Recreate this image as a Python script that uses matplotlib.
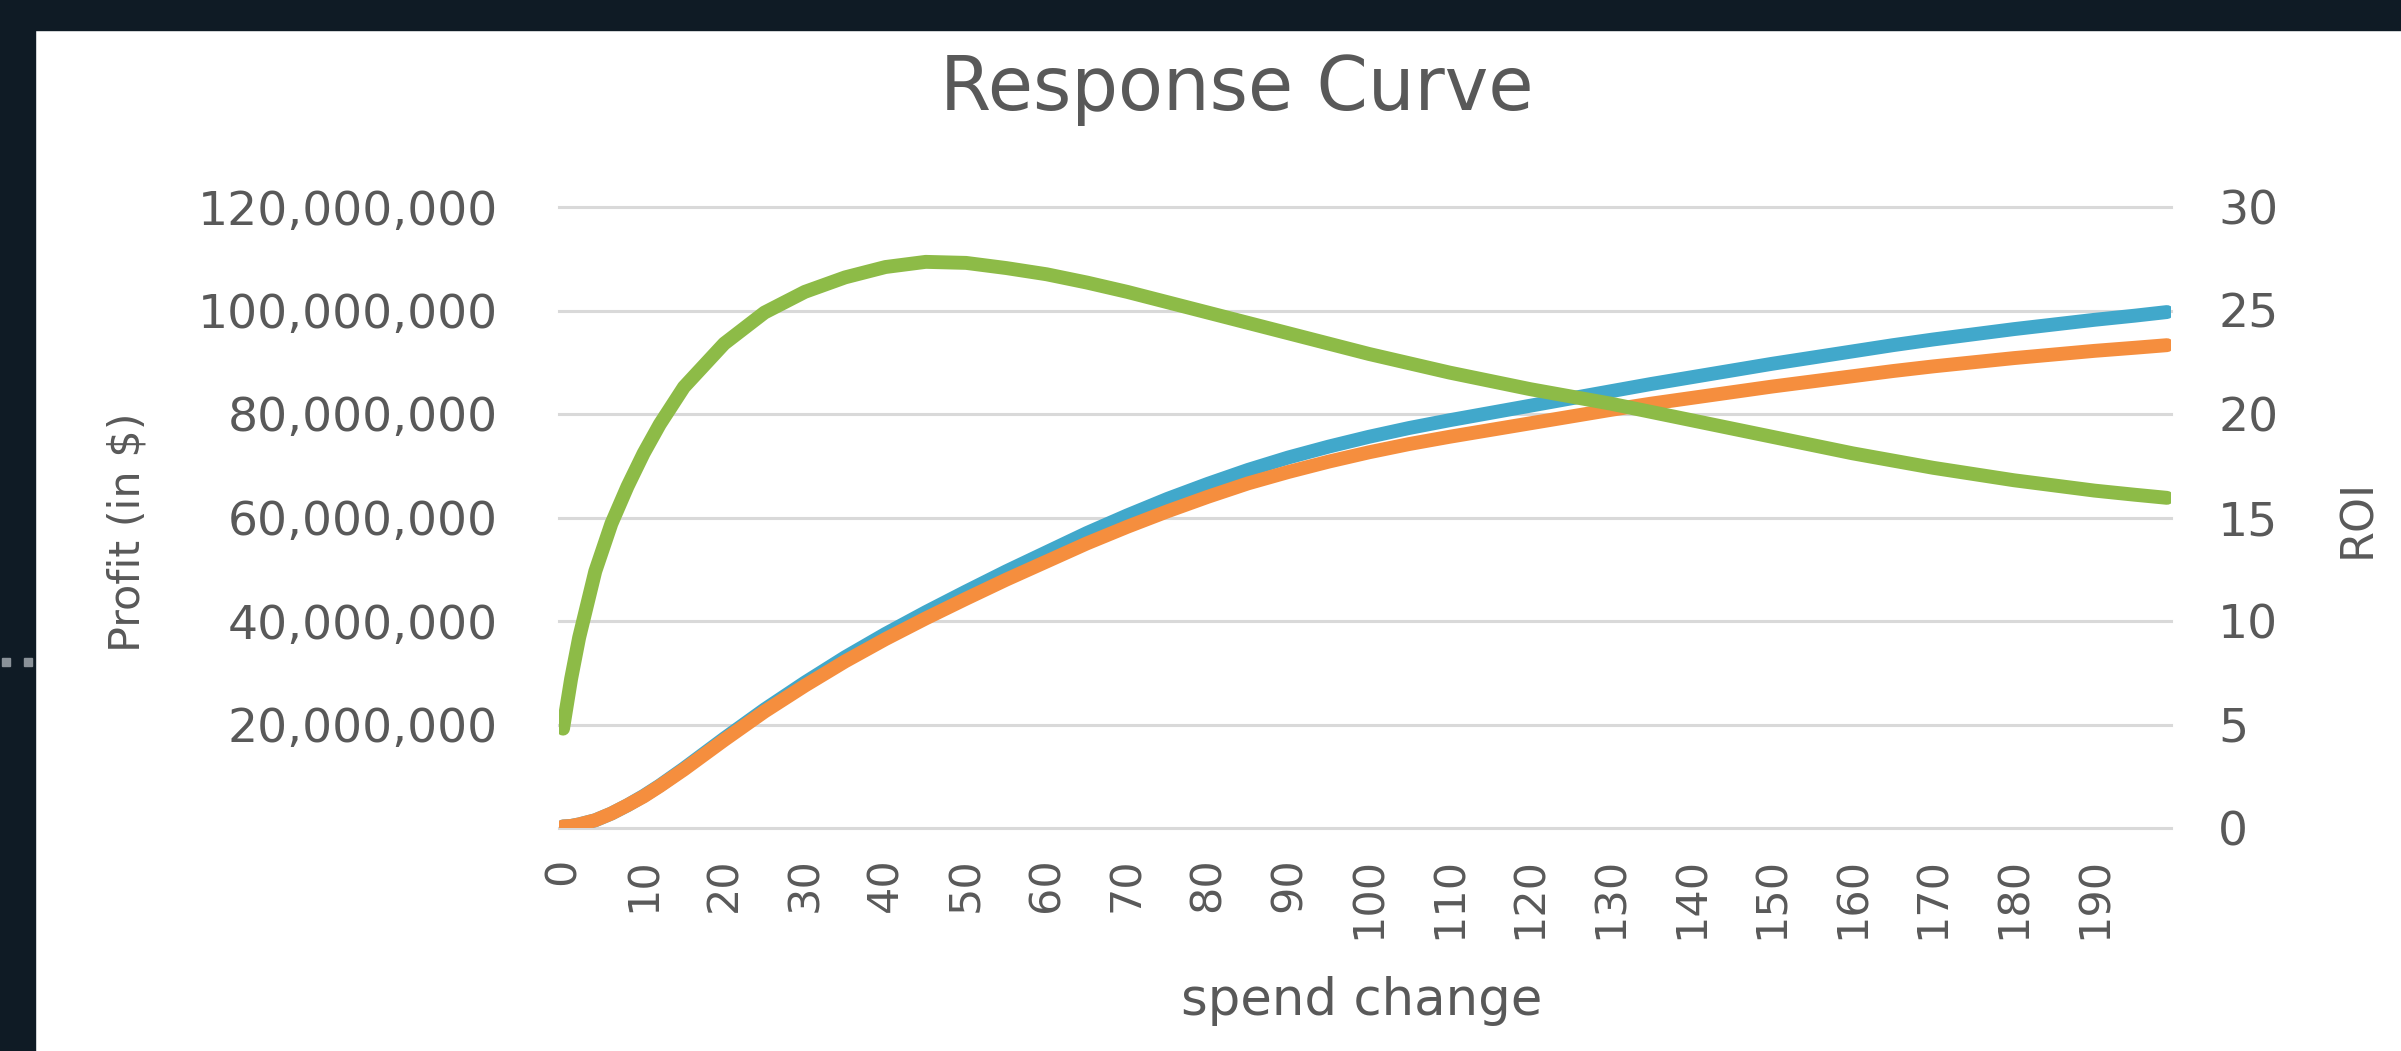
# Response curve: profit (two scenarios) and ROI against spend change
import numpy as np
import matplotlib.pyplot as plt
from matplotlib.patches import Rectangle
from matplotlib.ticker import StrMethodFormatter, MultipleLocator


spend_change = [0, 1, 2, 4, 6, 8, 10, 12, 15, 20, 25, 30, 35, 40, 45, 50, 55, 60,
                65, 70, 75, 80, 85, 90, 95, 100, 105, 110, 115, 120, 125, 130,
                135, 140, 145, 150, 155, 160, 165, 170, 175, 180, 185, 190, 195, 199]

# profit in millions of $
profit_blue = [0.3, 0.4, 0.7, 1.5, 2.8, 4.4, 6.2, 8.2, 11.5, 17.3, 22.9, 28.1, 33.0,
               37.5, 41.7, 45.7, 49.6, 53.3, 57.0, 60.4, 63.6, 66.5, 69.2, 71.6, 73.7,
               75.6, 77.3, 78.8, 80.2, 81.6, 83.0, 84.4, 85.8, 87.1, 88.4, 89.7, 90.9,
               92.1, 93.3, 94.4, 95.4, 96.4, 97.3, 98.2, 99.0, 99.7]
profit_orange = [0.3, 0.4, 0.7, 1.5, 2.8, 4.4, 6.1, 8.1, 11.3, 17.0, 22.5, 27.5, 32.2,
                 36.5, 40.5, 44.3, 48.0, 51.5, 55.0, 58.2, 61.2, 64.0, 66.6, 68.8, 70.8,
                 72.6, 74.2, 75.6, 76.9, 78.2, 79.5, 80.8, 82.0, 83.1, 84.2, 85.3, 86.3,
                 87.3, 88.3, 89.2, 90.0, 90.8, 91.5, 92.2, 92.8, 93.3]
roi = [4.8, 7.2, 9.2, 12.4, 14.7, 16.5, 18.1, 19.5, 21.3, 23.4, 24.9, 25.9, 26.6,
       27.1, 27.35, 27.3, 27.05, 26.75, 26.35, 25.9, 25.4, 24.9, 24.4, 23.9, 23.4,
       22.9, 22.45, 22.0, 21.6, 21.2, 20.85, 20.5, 20.1, 19.7, 19.3, 18.9, 18.5,
       18.1, 17.75, 17.4, 17.1, 16.8, 16.55, 16.3, 16.1, 15.95]

n_categories = 200
x_ticks = list(range(0, 200, 10))


# Figure ........................................................................
W, H = 2401, 1051
text_color = "#595959"
grid_color = "#d9d9d9"
plt.rcParams["font.family"] = ["DejaVu Sans"]

fig = plt.figure(figsize=(W / 100, H / 100), dpi=100)
fig.patch.set_facecolor("white")

# dark frame of the screenshot
fig.patches.append(Rectangle((0, 1 - 30 / H), 1, 30 / H, transform=fig.transFigure,
                             color="#0f1b25", zorder=0))
fig.patches.append(Rectangle((0, 0), 35 / W, 1, transform=fig.transFigure,
                             color="#0f1b25", zorder=0))
for x0 in (2, 24):
    fig.patches.append(Rectangle((x0 / W, 1 - 666 / H), 8 / W, 8 / H,
                                 transform=fig.transFigure, color="#8a9299", zorder=1))

left, right, top, bottom = 559, 2171, 207, 828
ax = fig.add_axes([left / W, 1 - bottom / H, (right - left) / W, (bottom - top) / H])
ax2 = ax.twinx()

profit_blue_usd = np.array(profit_blue) * 1e6
profit_orange_usd = np.array(profit_orange) * 1e6

ax.plot(spend_change, profit_blue_usd, color="#41a8cb", lw=10, solid_capstyle="round",
        solid_joinstyle="round", zorder=3)
ax.plot(spend_change, profit_orange_usd, color="#f58e3e", lw=10, solid_capstyle="round",
        solid_joinstyle="round", zorder=4)
ax2.plot(spend_change, roi, color="#8dbb47", lw=10, solid_capstyle="round",
         solid_joinstyle="round", zorder=5)

ax.set_xlim(-0.5, n_categories - 0.5)
ax.set_ylim(0, 120e6)
ax2.set_ylim(0, 30)
ax2.yaxis.set_major_locator(MultipleLocator(5))
ax.set_xticks(x_ticks)
ax.set_xticklabels([str(v) for v in x_ticks], rotation=90)

ax.yaxis.set_major_formatter(StrMethodFormatter("{x:,.0f}"))
ax.set_yticks([20e6, 40e6, 60e6, 80e6, 100e6, 120e6])

ax.grid(axis="y", color=grid_color, lw=2.2)
ax.set_axisbelow(True)
for line in ax.get_ygridlines():
    line.set_clip_on(False)
ax.axhline(0, color=grid_color, lw=2.2, clip_on=False, zorder=1)

for a in (ax, ax2):
    for s in a.spines.values():
        s.set_visible(False)
ax.tick_params(axis="y", length=0, pad=44, labelsize=34, labelcolor=text_color)
ax.tick_params(axis="x", length=0, pad=21, labelsize=31, labelcolor=text_color)
ax2.tick_params(axis="y", length=0, pad=34, labelsize=34, labelcolor=text_color)

# Titles
fig.text(1237 / W, 1 - 90 / H, "Response Curve", ha="center", va="center",
         fontsize=53, color=text_color)
fig.text(1362 / W, 1 - 1001 / H, "spend change", ha="center", va="center",
         fontsize=37, color=text_color)
fig.text(127 / W, 1 - 532 / H, "Profit (in $)", ha="center", va="center",
         rotation=90, fontsize=31, color=text_color)
fig.text(2358 / W, 1 - 518 / H, "ROI", ha="center", va="center",
         rotation=90, fontsize=32, color=text_color)

fig.savefig("out.png", dpi=100, facecolor=fig.get_facecolor())
